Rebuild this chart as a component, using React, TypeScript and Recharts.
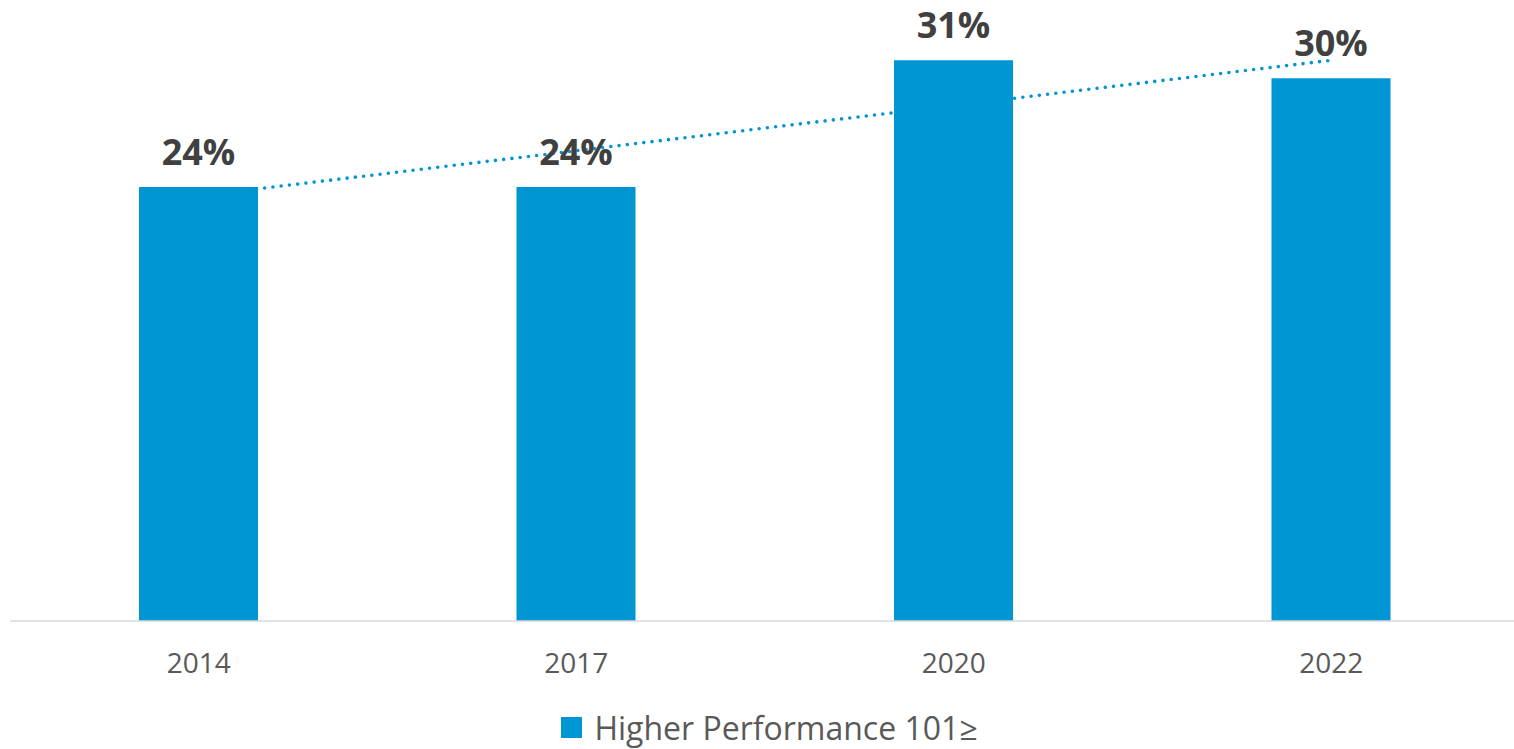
import {
  ComposedChart,
  Bar,
  Line,
  XAxis,
  YAxis,
  Legend,
  LabelList,
} from 'recharts';

const years = ['2014', '2017', '2020', '2022'];
const higherPerformance = [24, 24, 31, 30];
// dotted linear trend at each category
const trendValues = [23.5, 26, 28.5, 31];

const BLUE = '#0095D3';
const FONT = '"Open Sans", sans-serif';

const data = years.map((year, i) => ({
  year,
  value: higherPerformance[i],
  trend: trendValues[i],
}));

function LegendContent(): JSX.Element {
  return (
    <div
      style={{
        display: 'flex',
        justifyContent: 'center',
        alignItems: 'center',
        height: 44,
        fontFamily: FONT,
        fontSize: 32,
        color: '#595959',
      }}
    >
      <span style={{ width: 21, height: 21, background: BLUE, marginRight: 12, marginLeft: 25 }} />
      <span>Higher Performance 101≥</span>
    </div>
  );
}

export default function App(): JSX.Element {
  return (
    <div style={{ position: 'absolute', left: 0, top: 0, width: 1514, height: 749, overflow: 'hidden', background: '#fff' }}>
      <ComposedChart
        width={1520}
        height={749}
        data={data}
        margin={{ top: 6, right: 0, bottom: 0, left: 10 }}
      >
        <XAxis
          dataKey='year'
          axisLine={{ stroke: '#D9D9D9', strokeWidth: 1.5 }}
          tickLine={false}
          tickSize={0}
          tickMargin={32}
          height={84}
          tick={{ fill: '#595959', fontSize: 28, fontFamily: FONT }}
        />
        <YAxis hide domain={[0, 34]} />
        <Legend
          verticalAlign='bottom'
          height={44}
          content={<LegendContent />}
          wrapperStyle={{ left: 0, width: 1514 }}
        />
        <Line
          dataKey='trend'
          stroke={BLUE}
          strokeWidth={3.6}
          strokeDasharray='0 8.3'
          strokeLinecap='round'
          dot={false}
          activeDot={false}
          legendType='none'
          isAnimationActive={false}
        />
        <Bar dataKey='value' fill={BLUE} barSize={119} isAnimationActive={false}>
          <LabelList
            dataKey='value'
            position='top'
            offset={22}
            formatter={(v: number) => `${v}%`}
            style={{ fill: '#404040', fontSize: 36, fontWeight: 700, fontFamily: FONT }}
          />
        </Bar>
      </ComposedChart>
    </div>
  );
}
